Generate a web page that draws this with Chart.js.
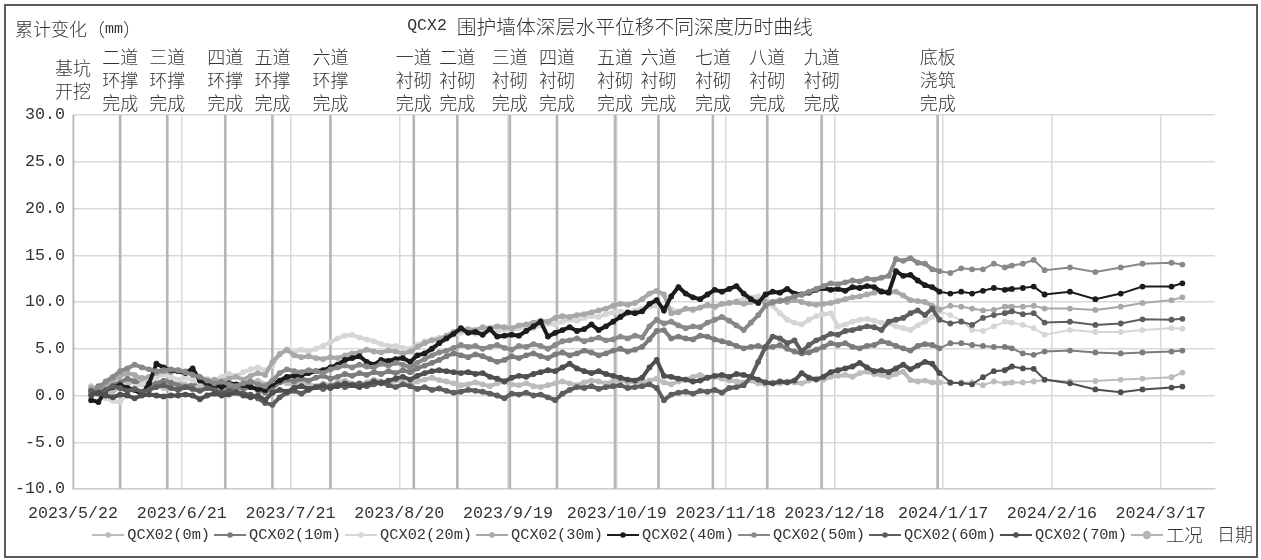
<!DOCTYPE html>
<html>
<head>
<meta charset="utf-8">
<script src="https://cdn.jsdelivr.net/npm/chart.js@4.4.1/dist/chart.umd.min.js"></script>
<style>
  html, body { margin: 0; padding: 0; background: #fff; }
  #wrap { width: 1261px; height: 560px; position: relative; }
</style>
</head>
<body>
<div id="wrap"><canvas id="c" width="1261" height="560"></canvas></div>
<script>
// Time axis: day offsets counted from 2023/5/22
const AXIS_START = [2023, 4, 22];

const days = [
  5,7,9,11,13,15,17,19,21,23,
  25,27,29,31,33,35,37,39,41,43,
  45,47,49,51,53,55,57,59,61,63,
  65,67,69,71,73,75,77,79,81,83,
  85,87,89,91,93,95,97,99,101,103,
  105,107,109,111,113,115,117,119,121,123,
  125,127,129,131,133,135,137,139,141,143,
  145,147,149,151,153,155,157,159,161,163,
  165,167,169,171,173,175,177,179,181,183,
  185,187,189,191,193,195,197,199,201,203,
  205,207,209,211,213,215,217,219,221,223,
  225,227,229,231,233,235,237,239,
  242,245,248,251,254,257,259,262,265,268,275,282,289,295,303,306
];

// Cumulative horizontal displacement (mm) at each depth
const d0m = [
  1.0,0.3,-0.2,0.4,0.9,1.2,1.6,1.9,1.5,1.2,
  0.8,1.1,1.4,1.2,0.9,1.1,0.8,1.2,1.5,1.0,
  0.7,1.0,1.3,1.6,1.2,1.0,1.5,1.3,1.1,1.4,
  1.2,1.0,1.3,1.1,1.4,1.6,1.3,1.1,1.4,1.7,
  1.5,1.3,1.6,1.4,1.2,1.5,1.7,1.9,1.65,1.5,
  1.3,1.1,1.2,1.4,1.2,1.0,1.3,1.5,1.2,1.1,
  1.3,1.0,0.9,1.1,1.3,1.5,1.3,1.1,1.4,1.6,
  1.5,1.3,1.5,1.7,1.4,1.5,1.3,1.6,1.8,1.4,
  1.2,1.5,1.7,2.0,2.2,1.9,2.0,1.8,1.6,1.5,
  1.4,1.6,1.3,1.2,1.4,1.3,1.5,1.4,1.3,1.6,
  1.8,1.7,2.0,2.1,2.2,2.0,2.4,2.55,2.3,2.2,
  2.0,2.3,2.55,1.65,1.5,1.6,1.4,1.4,
  1.3,1.4,1.4,1.1,1.5,1.3,1.4,1.4,1.5,1.65,1.5,1.55,1.7,1.8,1.95,2.45
];
const d10m = [
  0.5,1.0,1.3,1.1,1.4,1.8,1.5,1.2,1.0,1.3,
  1.6,1.4,1.1,0.9,1.2,1.5,1.2,0.9,1.1,0.8,
  1.0,0.7,0.9,0.6,0.3,0.8,1.4,1.7,1.5,1.8,
  1.6,1.9,2.1,1.8,2.0,2.3,2.1,2.4,2.2,2.5,
  2.3,2.6,2.4,2.7,2.5,2.9,3.2,3.5,3.8,4.2,
  4.5,4.3,4.1,4.4,4.2,3.9,3.6,3.8,4.2,4.0,
  4.3,4.5,4.2,4.0,4.4,4.6,4.3,4.5,4.8,4.6,
  4.3,4.5,4.8,5.0,4.7,4.9,5.2,6.0,6.9,7.0,
  6.1,6.3,6.1,6.0,6.4,6.3,6.0,5.8,5.6,5.3,
  5.05,5.2,5.3,5.1,5.2,5.4,5.0,4.7,4.5,4.6,
  4.9,5.2,5.6,5.4,5.6,5.2,5.05,5.3,5.4,5.8,
  5.6,5.3,5.05,4.8,5.3,5.5,5.4,5.05,
  5.6,5.6,5.4,5.3,5.2,5.2,5.05,4.5,4.35,4.7,4.8,4.6,4.5,4.6,4.7,4.8
];
const d20m = [
  0.9,0.2,-0.3,-0.6,-0.7,0.3,0.9,1.2,1.5,1.9,
  2.3,2.0,1.7,1.9,1.6,1.4,1.8,1.6,2.0,2.3,
  2.1,2.5,2.8,3.0,2.7,3.2,4.5,4.8,4.6,4.9,
  4.7,5.0,5.3,5.7,6.1,6.4,6.5,6.2,6.0,5.8,
  5.5,5.3,5.3,5.1,5.0,5.4,5.8,6.0,6.2,6.3,
  6.5,6.7,6.8,6.6,6.9,7.0,6.8,7.1,7.0,7.2,
  7.4,7.2,7.5,7.7,7.6,7.9,8.1,8.0,8.3,8.5,
  8.4,8.7,8.9,9.0,8.8,9.1,9.3,9.5,9.6,9.4,
  9.2,9.0,9.3,9.1,9.4,9.6,9.4,9.8,9.9,10.1,
  10.3,10.5,10.6,10.4,9.6,8.8,8.1,7.8,7.6,8.1,
  8.5,8.7,8.8,7.4,7.6,7.9,8.1,8.2,8.0,7.8,
  7.7,7.4,7.2,7.0,7.5,7.9,8.4,9.0,
  8.6,8.0,7.0,6.9,7.4,7.9,7.8,7.55,7.2,6.5,7.0,6.8,6.8,7.0,7.2,7.15
];
const d30m = [
  0.8,0.5,1.0,1.6,2.1,2.4,2.2,1.8,2.0,2.4,
  2.6,2.5,2.7,2.6,2.3,1.8,1.5,1.7,1.4,1.8,
  2.0,1.7,2.1,2.4,2.2,3.6,4.4,4.9,4.3,4.1,
  4.2,4.0,3.9,4.1,4.0,4.3,4.5,4.6,4.9,4.7,
  4.6,4.8,4.7,4.5,4.7,5.2,5.6,5.9,6.0,6.4,
  6.8,7.0,7.1,7.0,7.3,7.2,7.4,7.3,7.2,7.5,
  7.6,7.8,8.0,7.9,8.3,8.5,8.4,8.6,8.7,8.9,
  9.1,9.3,9.6,9.8,9.7,9.9,10.3,10.9,11.2,10.8,
  8.8,8.9,9.3,9.2,9.4,9.7,9.5,9.8,9.9,10.0,
  9.8,10.0,10.1,10.0,9.9,10.2,10.0,10.2,10.0,9.8,
  9.7,9.8,9.9,10.1,10.3,10.5,10.6,10.8,11.0,11.2,
  11.1,11.1,10.7,10.2,10.1,10.0,9.6,9.2,
  9.6,9.5,9.3,9.1,9.15,9.5,9.5,9.5,9.6,9.3,9.3,9.15,9.5,9.9,10.2,10.5
];
const d40m = [
  -0.5,-0.7,0.5,0.9,1.1,0.8,0.6,0.1,1.3,3.4,
  3.0,2.7,2.6,2.4,2.9,1.6,1.3,1.1,0.9,1.3,
  1.2,1.1,0.9,0.7,0.6,1.2,1.6,2.0,2.1,2.2,
  2.4,2.6,2.7,3.0,3.3,3.8,4.0,4.2,3.6,3.3,
  3.8,3.7,3.9,4.0,3.6,4.3,4.5,5.0,5.6,6.1,
  6.6,7.2,6.7,6.8,6.5,7.1,6.3,6.4,6.5,6.4,
  6.9,7.4,7.9,6.3,6.7,7.0,7.3,6.9,7.1,7.6,
  7.0,7.4,7.9,8.4,8.9,8.8,9.0,9.8,10.2,9.1,
  10.6,11.6,10.9,10.5,10.3,10.8,11.3,11.1,11.4,11.7,
  10.9,10.3,9.9,10.8,11.1,11.0,11.4,10.9,10.8,11.0,
  11.3,11.5,11.3,11.4,11.2,11.6,11.5,11.7,11.6,11.1,
  11.0,13.3,12.8,12.9,12.3,11.8,11.6,11.1,
  10.9,11.1,10.9,11.2,11.5,11.3,11.4,11.5,11.65,10.8,11.1,10.3,10.9,11.65,11.65,12.0
];
const d50m = [
  0.2,0.8,1.5,2.0,2.6,2.9,3.3,3.0,2.8,2.6,
  2.7,2.8,2.7,2.5,2.2,2.0,1.6,1.3,1.5,1.2,
  1.0,1.3,1.5,1.2,1.0,1.6,2.4,2.8,2.6,2.5,
  2.7,2.6,2.4,2.8,3.0,3.2,3.0,3.3,3.1,3.0,
  3.4,3.2,3.5,3.3,3.0,3.5,3.9,4.3,4.6,4.8,
  5.1,5.4,5.2,5.3,5.0,5.2,5.4,5.1,4.9,5.3,
  5.2,5.5,5.3,5.0,5.4,5.8,5.9,6.1,5.8,6.0,
  6.2,5.9,6.0,6.3,6.1,6.4,6.2,7.4,8.1,7.7,
  7.9,7.5,7.2,7.4,7.3,7.8,8.1,8.4,8.0,7.5,
  7.0,7.8,8.6,9.6,10.0,10.1,10.3,10.6,10.8,11.1,
  11.4,11.7,12.0,11.9,12.1,12.3,12.2,12.5,12.4,12.6,
  12.8,14.6,14.4,14.7,14.2,14.1,13.5,13.3,
  13.1,13.6,13.5,13.5,14.1,13.7,13.9,14.1,14.5,13.4,13.7,13.2,13.7,14.1,14.2,14.0
];
const d60m = [
  0.5,0.2,0.6,1.0,0.8,0.5,0.7,0.4,0.6,0.9,
  1.1,0.8,0.6,0.9,0.7,0.5,0.8,0.6,0.3,0.5,
  0.4,0.2,0.1,-0.3,-0.8,-1.0,-0.2,0.3,0.5,0.2,
  0.6,0.9,0.7,1.0,1.2,0.9,1.1,1.3,1.0,1.2,
  1.4,1.1,0.9,1.2,1.0,0.7,0.9,0.6,0.75,0.5,
  0.3,0.4,0.6,0.5,0.4,0.2,0.0,-0.3,0.2,0.1,
  0.3,0.0,0.1,-0.2,-0.5,0.2,0.6,0.9,0.8,1.0,
  0.7,0.9,1.0,1.1,0.8,0.9,1.0,1.2,0.8,-0.5,
  0.1,0.3,0.4,0.2,0.5,0.4,0.6,0.3,0.8,0.9,
  1.1,2.0,3.6,5.2,6.3,6.1,5.6,5.9,4.7,5.4,
  5.9,6.2,6.6,6.5,6.9,7.0,7.2,7.4,7.3,7.0,
  7.9,8.1,8.3,8.8,9.1,8.6,9.3,8.1,
  7.7,7.9,7.55,8.3,8.6,8.8,9.0,8.7,8.8,7.8,7.9,7.55,7.7,8.15,8.1,8.2
];
const d70m = [
  0.0,0.3,0.0,-0.2,0.1,0.0,-0.3,0.0,0.1,0.0,
  -0.1,0.0,0.0,0.1,0.0,-0.4,0.0,0.2,0.0,0.1,
  0.3,0.0,-0.2,0.0,-0.5,0.3,0.6,0.4,0.8,1.0,
  0.7,0.9,1.1,0.8,1.0,1.3,1.1,0.9,1.2,1.5,
  1.3,1.6,1.8,2.0,1.7,2.1,2.4,2.6,2.7,2.6,
  2.5,2.4,2.5,2.3,2.4,2.0,1.8,1.5,1.9,2.1,
  2.0,2.3,2.5,2.7,2.6,3.0,3.4,2.9,2.6,2.4,
  2.6,2.3,2.1,1.9,1.7,1.6,1.9,3.0,3.8,2.1,
  2.0,1.8,1.7,1.5,1.6,1.9,2.1,2.2,2.0,2.3,
  2.2,2.0,1.7,1.4,1.3,1.5,1.4,1.6,2.4,1.9,
  1.7,2.0,2.5,2.7,2.9,3.1,3.5,3.0,2.6,2.7,
  2.5,2.9,3.3,2.8,3.2,3.6,3.4,2.4,
  1.4,1.3,1.2,1.95,2.6,2.7,3.1,2.9,2.85,1.7,1.3,0.65,0.35,0.65,0.85,0.95
];

const seriesNames = ['QCX02(0m)', 'QCX02(10m)', 'QCX02(20m)', 'QCX02(30m)',
                     'QCX02(40m)', 'QCX02(50m)', 'QCX02(60m)', 'QCX02(70m)'];
const seriesValues = [d0m, d10m, d20m, d30m, d40m, d50m, d60m, d70m];
const seriesColors = ['#bcbcbc', '#7c7c7c', '#d6d6d6', '#a8a8a8',
                      '#1c1c1c', '#898989', '#5e5e5e', '#4f4f4f'];

// Construction stages (工况): day offset and caption lines
const stageName = '工况';
const stageDays = [0, 13, 26, 42, 55, 71, 94, 106, 120.5, 133.5, 149.5, 161.5, 176.5, 191.5, 206.5, 238.5];
const stageLabels = [
  ['基坑', '开挖'],
  ['二道', '环撑', '完成'], ['三道', '环撑', '完成'], ['四道', '环撑', '完成'],
  ['五道', '环撑', '完成'], ['六道', '环撑', '完成'],
  ['一道', '衬砌', '完成'], ['二道', '衬砌', '完成'], ['三道', '衬砌', '完成'],
  ['四道', '衬砌', '完成'], ['五道', '衬砌', '完成'], ['六道', '衬砌', '完成'],
  ['七道', '衬砌', '完成'], ['八道', '衬砌', '完成'], ['九道', '衬砌', '完成'],
  ['底板', '浇筑', '完成']
];
const stageColor = '#b5b5b5';

const Y_MIN = -10, Y_MAX = 30, Y_STEP = 5;
const X_MAX = 315, X_STEP = 30;

const chartTitle = 'QCX2 围护墙体深层水平位移不同深度历时曲线';
const yTitle = '累计变化（mm）';
const xTitle = '日期';
const TEXT = '#333333';

function dayLabel(d) {
  const dt = new Date(AXIS_START[0], AXIS_START[1], AXIS_START[2] + d);
  return dt.getFullYear() + '/' + (dt.getMonth() + 1) + '/' + dt.getDate();
}

// Mixed CJK / Latin text: Latin glyphs take half the CJK width, like a Song typeface
function fontFor(wide, size) {
  return wide ? `300 ${size}px "Noto Sans CJK SC"` : `${(size / 1.2).toFixed(2)}px "Liberation Mono"`;
}
function splitRuns(text) {
  const runs = [];
  for (const ch of text) {
    const wide = ch.codePointAt(0) > 0x2e80;
    const last = runs[runs.length - 1];
    if (last && last.wide === wide) last.t += ch; else runs.push({ wide, t: ch });
  }
  return runs;
}
function mixedWidth(ctx, text, size) {
  let w = 0;
  splitRuns(text).forEach(r => { ctx.font = fontFor(r.wide, size); w += ctx.measureText(r.t).width; });
  return w;
}
function drawMixed(ctx, text, x, y, size, align) {
  const runs = splitRuns(text);
  let total = 0;
  runs.forEach(r => { ctx.font = fontFor(r.wide, size); r.w = ctx.measureText(r.t).width; total += r.w; });
  let cx = align === 'center' ? x - total / 2 : (align === 'right' ? x - total : x);
  ctx.textAlign = 'left';
  ctx.textBaseline = 'middle';
  ctx.fillStyle = TEXT;
  runs.forEach(r => { ctx.font = fontFor(r.wide, size); ctx.fillText(r.t, cx, y); cx += r.w; });
  return total;
}

const seriesDatasets = seriesValues.map((vals, i) => ({
  label: seriesNames[i],
  data: days.map((d, k) => ({ x: d, y: vals[k] })),
  borderColor: seriesColors[i],
  backgroundColor: seriesColors[i],
  pointBackgroundColor: seriesColors[i],
  pointBorderWidth: 0,
  pointRadius: 2.9,
  pointHoverRadius: 2.9,
  borderWidth: 2,
  tension: 0,
  segment: {
    // daily readings are packed tightly; weekly readings are drawn thinner
    borderWidth: ctx => (ctx.p1.parsed.x - ctx.p0.parsed.x > 2.5 ? 2 : 4)
  },
  order: 8 - i
}));

const stageData = [];
stageDays.forEach(d => {
  stageData.push({ x: d, y: Y_MIN }, { x: d, y: Y_MAX }, { x: d, y: null });
});
const stageDataset = {
  label: stageName,
  data: stageData,
  borderColor: stageColor,
  backgroundColor: stageColor,
  borderWidth: 2.6,
  pointRadius: 0,
  spanGaps: false,
  order: 20
};

const decorPlugin = {
  id: 'decor',
  afterDraw(chart) {
    const ctx = chart.ctx;
    const xs = chart.scales.x;
    ctx.save();

    // outer frame
    ctx.strokeStyle = '#5a5a5a';
    ctx.lineWidth = 2;
    ctx.strokeRect(5, 5, 1252, 552);

    // titles
    drawMixed(ctx, yTitle, 15, 29, 18, 'left');
    drawMixed(ctx, chartTitle, 610, 26, 19.8, 'center');

    // stage captions above the plot, each block centred on the middle row
    const ROW_MID = 80, ROW_GAP = 23;
    stageDays.forEach((d, i) => {
      const px = xs.getPixelForValue(d);
      const lines = stageLabels[i];
      const y0 = ROW_MID - (lines.length - 1) * ROW_GAP / 2;
      lines.forEach((t, r) => drawMixed(ctx, t, px, y0 + r * ROW_GAP, 18, 'center'));
    });

    // legend
    const items = seriesNames.map((n, i) => ({ name: n, color: seriesColors[i], r: 2.8 }));
    items.push({ name: stageName, color: stageColor, r: 4.2 });
    const LS = 18.4, SYM = 32, GAP1 = 3, GAP2 = 4;
    let total = 0;
    items.forEach(it => { it.w = mixedWidth(ctx, it.name, LS); total += SYM + GAP1 + it.w; });
    total += GAP2 * (items.length - 1);
    let lx = 647.5 - total / 2;
    const ly = 535;
    items.forEach(it => {
      ctx.strokeStyle = it.color;
      ctx.lineWidth = 2;
      ctx.beginPath();
      ctx.moveTo(lx, ly);
      ctx.lineTo(lx + SYM, ly);
      ctx.stroke();
      ctx.fillStyle = it.color;
      ctx.beginPath();
      ctx.arc(lx + SYM / 2, ly, it.r, 0, Math.PI * 2);
      ctx.fill();
      drawMixed(ctx, it.name, lx + SYM + GAP1, ly, LS, 'left');
      lx += SYM + GAP1 + it.w + GAP2;
    });

    // x-axis title
    drawMixed(ctx, xTitle, 1235, 534, 18, 'center');
    ctx.restore();
  }
};

new Chart(document.getElementById('c'), {
  type: 'line',
  data: { datasets: [...seriesDatasets, stageDataset] },
  options: {
    responsive: false,
    animation: false,
    devicePixelRatio: 1,
    layout: { padding: { left: 0, right: 46, top: 115, bottom: 0 } },
    plugins: { legend: { display: false }, tooltip: { enabled: false } },
    events: [],
    scales: {
      x: {
        type: 'linear',
        min: 0,
        max: X_MAX,
        afterFit: s => { s.height = 71; },
        afterBuildTicks: s => { s.ticks = s.ticks.filter(t => t.value % X_STEP === 0); },
        ticks: {
          stepSize: X_STEP,
          autoSkip: false,
          maxRotation: 0,
          padding: 15,
          color: TEXT,
          font: { family: 'Liberation Mono', size: 16.7 },
          callback: v => dayLabel(v)
        },
        grid: { color: '#d9d9d9', lineWidth: 1.5, drawTicks: false },
        border: { display: true, color: '#d0d0d0', width: 1.5 }
      },
      y: {
        min: Y_MIN,
        max: Y_MAX,
        afterFit: s => { s.width = 73; },
        ticks: {
          stepSize: Y_STEP,
          padding: 8,
          color: TEXT,
          font: { family: 'Liberation Mono', size: 16.7 },
          callback: v => v.toFixed(1)
        },
        grid: { color: '#d9d9d9', lineWidth: 1.5, drawTicks: false },
        border: { display: false }
      }
    }
  },
  plugins: [decorPlugin]
});
</script>
</body>
</html>
